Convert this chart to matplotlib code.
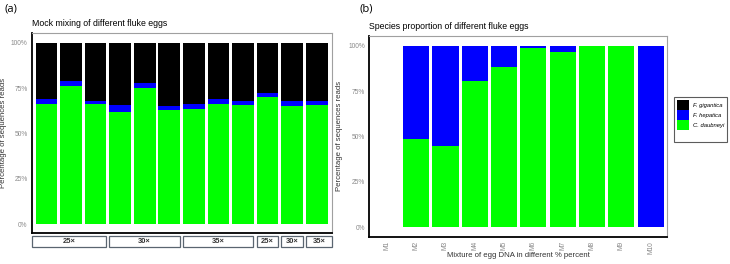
import numpy as np
import matplotlib
matplotlib.use("Agg")
import matplotlib.pyplot as plt
from matplotlib.patches import Rectangle, Patch
import matplotlib.transforms as mtransforms

plt.rcParams['font.family'] = ['Liberation Sans', 'DejaVu Sans']

# ---------------- data ----------------
species = ['F. gigantica', 'F. hepatica', 'C. daubneyi']
colors = ['#000000', '#0000ff', '#00ff00']

# panel (a): mock mixing, 12 samples (percent)
mock_daub = [66, 76, 66, 62, 75, 63, 63.5, 66.5, 65.5, 70, 65, 65.5]
mock_hep = [3, 3, 2, 3.5, 3, 2, 2.5, 2.5, 2.5, 2.3, 3, 2.5]
mock_gig = [100 - d - h for d, h in zip(mock_daub, mock_hep)]
group_labels = ['25×', '30×', '35×', '25×', '30×', '35×']
group_spans = [(0, 2), (3, 5), (6, 8), (9, 9), (10, 10), (11, 11)]

# panel (b): species proportion, M1..M10 (percent)
mix_names = ['M1', 'M2', 'M3', 'M4', 'M5', 'M6', 'M7', 'M8', 'M9', 'M10']
mix_daub = [0, 48.5, 45, 80.5, 88, 98.8, 96.5, 99.7, 100, 0]
mix_hep = [0, 51.5, 55, 19.5, 12, 1.2, 3.5, 0.3, 0, 100]
mix_gig = [0, 0, 0, 0, 0, 0, 0, 0, 0, 0]

yticks = [0, 25, 50, 75, 100]
ytick_labels = ['0%', '25%', '50%', '75%', '100%']

# ---------------- figure ----------------
fig = plt.figure(figsize=(7.3, 2.64), dpi=100)
axa = fig.add_axes([0.0434, 0.1186, 0.4114, 0.7553])
axb = fig.add_axes([0.5059, 0.1034, 0.4078, 0.7602])

def style(ax):
    for s in ['top', 'right']:
        ax.spines[s].set_color('#a0a0a0')
        ax.spines[s].set_linewidth(0.8)
    for s in ['left', 'bottom']:
        ax.spines[s].set_color('black')
        ax.spines[s].set_linewidth(1.3)
    ax.set_yticks(yticks)
    ax.set_yticklabels(ytick_labels)
    ax.tick_params(length=0, labelsize=4.8, labelcolor='#8a8a8a', pad=3)

# panel (a)
xa = np.arange(len(mock_daub))
axa.bar(xa, mock_daub, width=0.88, color=colors[2])
axa.bar(xa, mock_hep, width=0.88, bottom=mock_daub, color=colors[1])
axa.bar(xa, mock_gig, width=0.88, bottom=np.add(mock_daub, mock_hep), color=colors[0])
xlim_a = (-0.6, 11.62)
axa.set_xlim(*xlim_a)
axa.set_ylim(-4.6, 105.2)
style(axa)
axa.set_xticks([])
axa.set_title('Mock mixing of different fluke eggs', loc='left', fontsize=6.3, pad=5)
axa.set_ylabel('Percentage of sequences reads', fontsize=5.6, color='#333333')
axa.yaxis.set_label_coords(-0.082, 0.5)

# group boxes under the bars (outer boxes run to the axes edges)
trans = mtransforms.blended_transform_factory(axa.transData, axa.transAxes)
n = len(mock_daub)
for lab, (s, e) in zip(group_labels, group_spans):
    x0 = xlim_a[0] if s == 0 else s - 0.44
    x1 = xlim_a[1] if e == n - 1 else e + 0.42
    axa.add_patch(Rectangle((x0, -0.072), x1 - x0, 0.055, transform=trans,
                            facecolor='white', edgecolor='#5a6570', lw=0.9, clip_on=False))
    axa.text((x0 + x1) / 2, -0.045, lab, transform=trans, ha='center', va='center',
             fontsize=5.4, fontweight='bold', color='#333333')

# panel (b)
xb = np.arange(len(mix_names))
axb.bar(xb, mix_daub, width=0.89, color=colors[2])
axb.bar(xb, mix_hep, width=0.89, bottom=mix_daub, color=colors[1])
axb.bar(xb, mix_gig, width=0.89, bottom=np.add(mix_daub, mix_hep), color=colors[0])
axb.set_xlim(-0.6, 9.56)
axb.set_ylim(-5.2, 105.3)
style(axb)
axb.set_xticks(xb)
axb.set_xticklabels(mix_names, rotation=90)
axb.set_title('Species proportion of different fluke eggs', loc='left', fontsize=6.3, pad=5)
axb.set_ylabel('Percentage of sequences reads', fontsize=5.6, color='#333333')
axb.yaxis.set_label_coords(-0.088, 0.5)
axb.set_xlabel('Mixture of egg DNA in different % percent', fontsize=5.6, color='#333333')
axb.xaxis.set_label_coords(0.5, -0.075)

# blank last entry leaves the empty space at the bottom of the legend box
handles = [Patch(facecolor=c, edgecolor='none') for c in colors]
handles.append(Patch(facecolor='none', edgecolor='none'))
leg = fig.legend(handles, species + [''], loc='upper left', bbox_to_anchor=(0.9237, 0.6314),
                 prop={'size': 4.2, 'style': 'italic'}, handlelength=2.1, handleheight=2.1,
                 labelspacing=0.1, handletextpad=0.6, borderpad=0.5, borderaxespad=0,
                 fancybox=False, frameon=True)
leg.get_frame().set_edgecolor('#333333')
leg.get_frame().set_linewidth(0.8)

fig.text(0.006, 0.985, '(a)', fontsize=8, va='top', family=['Open Sans', 'DejaVu Sans'])
fig.text(0.492, 0.985, '(b)', fontsize=8, va='top', family=['Open Sans', 'DejaVu Sans'])

fig.savefig('out.png', dpi=100)
